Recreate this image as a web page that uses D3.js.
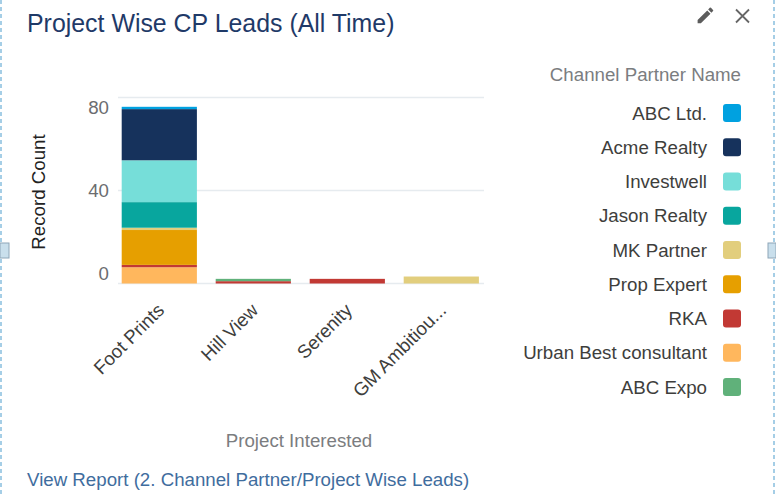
<!DOCTYPE html>
<html>
<head>
<meta charset="utf-8">
<title>Project Wise CP Leads</title>
<script src="https://cdn.jsdelivr.net/npm/d3@7"></script>
<style>
  html, body { margin: 0; padding: 0; background: #fff; overflow: hidden; }
  svg { display: block; font-family: "Liberation Sans", Arial, sans-serif; }
</style>
</head>
<body>
<div id="chart"></div>
<script>
const projects = ["Foot Prints", "Hill View", "Serenity", "GM Ambitiou..."];
const partners = ["ABC Ltd.", "Acme Realty", "Investwell", "Jason Realty", "MK Partner", "Prop Expert", "RKA", "Urban Best consultant", "ABC Expo"];
const partnerColors = ["#00a1e0", "#16325c", "#76ded9", "#08a69e", "#e2ce7d", "#e69f00", "#c23934", "#ffb75d", "#60b17a"];

// one list per partner, same order as projects
const abcLtd = [1, 0, 0, 0];
const acmeRealty = [22, 0, 0, 0];
const investwell = [18, 0, 0, 0];
const jasonRealty = [11, 0, 0, 0];
const mkPartner = [1, 0, 0, 3];
const propExpert = [15, 0, 0, 0];
const rka = [1, 1, 2, 0];
const urbanBest = [7, 0, 0, 0];
const abcExpo = [0, 1, 0, 0];
const seriesValues = [abcLtd, acmeRealty, investwell, jasonRealty, mkPartner, propExpert, rka, urbanBest, abcExpo];

const yTicks = [0, 40, 80];

const WIDTH = 776;
const HEIGHT = 494;
const PLOT = { left: 112.3, right: 488.3, top: 97.5, bottom: 283.5 };
const LABEL_SIZE = 18.7;

const rows = projects.map((name, i) => {
  const row = { name };
  partners.forEach((p, j) => { row[p] = seriesValues[j][i]; });
  return row;
});

// stack from the baseline up: Urban Best first, ABC Ltd. on top
const stackOrder = ["Urban Best consultant", "RKA", "Prop Expert", "MK Partner", "Jason Realty", "Investwell", "Acme Realty", "ABC Ltd.", "ABC Expo"];
const stacked = d3.stack().keys(stackOrder)(rows);

const x = d3.scaleBand().domain(projects).range([PLOT.left, PLOT.right]).paddingInner(0.2).paddingOuter(0.1);
const y = d3.scaleLinear().domain([0, 80]).range([PLOT.bottom, PLOT.top]);
const color = d3.scaleOrdinal().domain(partners).range(partnerColors);

const svg = d3.select("#chart").append("svg").attr("width", WIDTH).attr("height", HEIGHT);

// dashed frame of the dashboard editor and its side handles
[1, 774].forEach(px => {
  svg.append("line").attr("x1", px).attr("x2", px).attr("y1", 0).attr("y2", HEIGHT)
    .attr("stroke", "#6aaed6").attr("stroke-width", 1.2).attr("stroke-dasharray", "4 3");
});
[[0, 9], [768, 8]].forEach(([hx, hw]) => {
  svg.append("rect").attr("x", hx).attr("y", 243).attr("width", hw).attr("height", 15)
    .attr("fill", "#c9dfec").attr("stroke", "#8ea6b8");
});

svg.append("text").attr("x", 27).attr("y", 32).attr("font-size", 24.9).attr("fill", "#1f3a68")
  .text("Project Wise CP Leads (All Time)");

// pencil and close icons
svg.append("path")
  .attr("transform", "translate(695,5) scale(0.87)")
  .attr("d", "M3 17.25V21h3.75L17.81 9.94l-3.75-3.75L3 17.25zM20.71 7.04a1 1 0 0 0 0-1.41l-2.34-2.34a1 1 0 0 0-1.41 0l-1.83 1.83 3.75 3.75 1.83-1.83z")
  .attr("fill", "#5c5c5c");
svg.append("path").attr("d", "M736 9.5L749 22.5M749 9.5L736 22.5")
  .attr("stroke", "#666").attr("stroke-width", 1.8).attr("fill", "none");

// grid
svg.append("g").selectAll("line").data(yTicks).enter().append("line")
  .attr("x1", 118).attr("x2", 484)
  .attr("y1", d => y(d)).attr("y2", d => y(d))
  .attr("stroke", "#e6ebef").attr("stroke-width", 1.5);

// bars
svg.append("g").selectAll("g").data(stacked).enter().append("g")
  .attr("fill", d => color(d.key))
  .selectAll("rect").data(d => d.filter(s => s[1] > s[0])).enter().append("rect")
  .attr("x", d => x(d.data.name))
  .attr("width", x.bandwidth())
  .attr("y", d => y(d[1]))
  .attr("height", d => y(d[0]) - y(d[1]));

// y axis, outer labels pulled inside the plot like the original
const yAxis = svg.append("g").attr("transform", `translate(109,0)`)
  .call(d3.axisLeft(y).tickValues(yTicks).tickSize(0).tickPadding(0));
yAxis.select(".domain").remove();
yAxis.selectAll("text")
  .attr("font-size", LABEL_SIZE).attr("fill", "#6b6d70").attr("font-family", "inherit")
  .attr("dy", d => d === 80 ? "0.85em" : d === 0 ? "-0.23em" : "0.32em");

// x axis
const xAxis = svg.append("g").attr("transform", `translate(0,${PLOT.bottom})`)
  .call(d3.axisBottom(x).tickSize(0).tickPadding(0));
xAxis.select(".domain").remove();
xAxis.selectAll("text")
  .attr("font-size", LABEL_SIZE).attr("fill", "#3e3e3c").attr("font-family", "inherit")
  .attr("text-anchor", "end")
  .attr("dy", 0).attr("y", 0)
  .attr("transform", "translate(6,28) rotate(-45)");

svg.append("text").attr("transform", "translate(45,192) rotate(-90)")
  .attr("text-anchor", "middle").attr("font-size", LABEL_SIZE).attr("fill", "#222").text("Record Count");
svg.append("text").attr("x", 299).attr("y", 447).attr("text-anchor", "middle")
  .attr("font-size", LABEL_SIZE).attr("fill", "#7b7d80").text("Project Interested");

// legend
svg.append("text").attr("x", 741).attr("y", 81).attr("text-anchor", "end")
  .attr("font-size", LABEL_SIZE).attr("fill", "#7b7d80").text("Channel Partner Name");
const legendY = d3.scalePoint().domain(partners).range([113, 387]);
const legend = svg.append("g").selectAll("g").data(partners).enter().append("g")
  .attr("transform", d => `translate(0,${legendY(d)})`);
legend.append("rect").attr("x", 723).attr("y", -9).attr("width", 18).attr("height", 18).attr("rx", 3)
  .attr("fill", d => color(d));
legend.append("text").attr("x", 707).attr("dy", "0.35em").attr("text-anchor", "end")
  .attr("font-size", LABEL_SIZE).attr("fill", "#3e3e3c").text(d => d);

svg.append("text").attr("x", 27).attr("y", 486).attr("font-size", LABEL_SIZE).attr("fill", "#3f6d9e")
  .text("View Report (2. Channel Partner/Project Wise Leads)");
</script>
</body>
</html>
